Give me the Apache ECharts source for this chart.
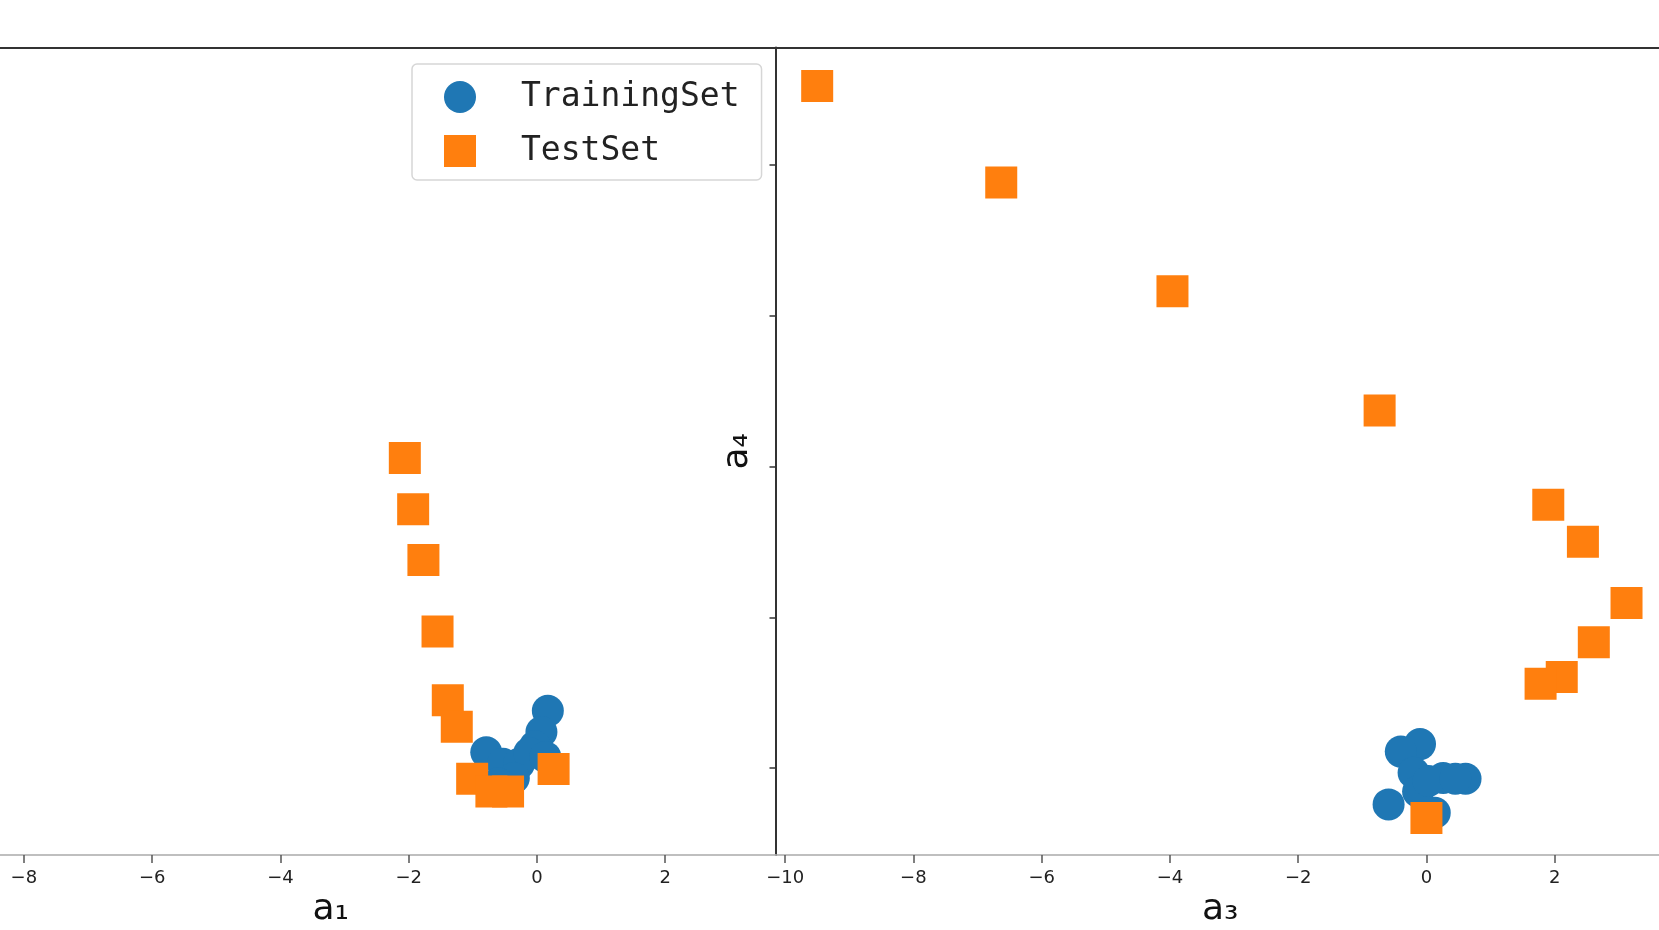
<!DOCTYPE html>
<html>
<head>
<meta charset="utf-8">
<script src="https://cdn.jsdelivr.net/npm/echarts@6/dist/echarts.min.js"></script>
<style>
html,body{margin:0;padding:0;background:#fff;}
#chart{width:1659px;height:930px;}
</style>
</head>
<body>
<div id="chart"></div>
<script>
// ---- data ----
const xTicks = [-10, -8, -6, -4, -2, 0, 2];
const yTicks = [0, 2, 4, 6, 8];

// left panel (a1)
const trainLeftX = [0.17, 0.07, -0.03, -0.79, -0.53, -0.28, -0.12, -0.36, 0.13, -0.61];
const trainLeftY = [0.76, 0.48, 0.29, 0.21, 0.06, 0.06, 0.20, -0.13, 0.15, -0.20];
const testLeftX  = [-2.06, -1.93, -1.77, -1.55, -1.39, -1.25, -1.01, -0.71, -0.45, 0.26];
const testLeftY  = [4.11, 3.43, 2.76, 1.81, 0.90, 0.55, -0.14, -0.31, -0.31, -0.01];

// right panel (a3 vs a4)
const trainRightX = [-0.10, -0.40, -0.20, 0.26, 0.61, -0.59, 0.13, -0.13, 0.03, 0.45];
const trainRightY = [0.32, 0.22, -0.06, -0.13, -0.14, -0.48, -0.59, -0.31, -0.17, -0.14];
const testRightX  = [-9.50, -6.63, -3.96, -0.73, 1.90, 2.44, 3.12, 2.61, 2.11, 1.78, 0.00];
const testRightY  = [9.04, 7.76, 6.32, 4.74, 3.49, 3.00, 2.19, 1.67, 1.21, 1.12, -0.66];

const zip = (xs, ys) => xs.map((x, i) => [x, ys[i]]);

const X_MIN = -10.15, X_MAX = 3.72, Y_MIN = -1.15, Y_MAX = 9.55;
const BLUE = '#1f77b4', ORANGE = '#ff7f0e';
const fmt = v => (v < 0 ? '\u2212' + Math.abs(v) : String(v));

function bottomX(grid, name) {
  return {
    type: 'value', gridIndex: grid, position: 'bottom',
    min: X_MIN, max: X_MAX,
    name: name, nameLocation: 'middle', nameGap: 37,
    nameTextStyle: { fontFamily: 'DejaVu Sans', fontSize: 36, color: '#111' },
    axisLine: { show: true, onZero: false, lineStyle: { color: '#aaaaaa', width: 1.5 } },
    axisTick: { show: true, customValues: xTicks, length: 8, lineStyle: { color: '#555', width: 1.5 } },
    axisLabel: { show: true, customValues: xTicks, formatter: fmt, margin: 14,
      fontFamily: 'DejaVu Sans', fontSize: 18, color: '#222' },
    splitLine: { show: false }
  };
}
function topX(grid) {
  return {
    type: 'value', gridIndex: grid, position: 'top',
    min: X_MIN, max: X_MAX,
    axisLine: { show: true, onZero: false, lineStyle: { color: '#333', width: 2 } },
    axisTick: { show: false }, axisLabel: { show: false }, splitLine: { show: false }
  };
}

const option = {
  backgroundColor: '#ffffff',
  animation: false,
  grid: [
    { left: -114, top: 47.5, width: 889.5, height: 807.5, containLabel: false, outerBoundsMode: 'none' },
    { left: 775.5, top: 47.5, width: 889.5, height: 807.5, containLabel: false, outerBoundsMode: 'none' }
  ],
  xAxis: [bottomX(0, 'a\u2081'), bottomX(1, 'a\u2083'), topX(0), topX(1)],
  yAxis: [
    { type: 'value', gridIndex: 0, min: Y_MIN, max: Y_MAX,
      axisLine: { show: false, onZero: false }, axisTick: { show: false }, axisLabel: { show: false },
      splitLine: { show: false } },
    { type: 'value', gridIndex: 1, min: Y_MIN, max: Y_MAX,
      name: 'a\u2084', nameLocation: 'middle', nameRotate: 90, nameGap: 20,
      nameTextStyle: { fontFamily: 'DejaVu Sans', fontSize: 36, color: '#111' },
      axisLine: { show: true, onZero: false, lineStyle: { color: '#333', width: 2 } },
      axisTick: { show: true, customValues: yTicks, length: 6, lineStyle: { color: '#333', width: 1.5 } },
      axisLabel: { show: false },
      splitLine: { show: false } }
  ],
  legend: {
    left: 412, top: 64,
    orient: 'vertical',
    padding: [14, 22, 10, 32],
    itemGap: 16,
    itemWidth: 32, itemHeight: 32,
    backgroundColor: 'rgba(255,255,255,0.8)',
    borderColor: '#d6d6d6', borderWidth: 1.5, borderRadius: 5,
    textStyle: { fontFamily: 'DejaVu Sans Mono', fontSize: 33, lineHeight: 34, color: '#222',
      padding: [4, 0, 0, 40] },
    data: [
      { name: 'TrainingSet', icon: 'circle' },
      { name: 'TestSet', icon: 'rect' }
    ]
  },
  series: [
    { name: 'TrainingSet', type: 'scatter', xAxisIndex: 0, yAxisIndex: 0,
      symbol: 'circle', symbolSize: 32, itemStyle: { color: BLUE, opacity: 1 },
      data: zip(trainLeftX, trainLeftY) },
    { name: 'TrainingSet', type: 'scatter', xAxisIndex: 1, yAxisIndex: 1,
      symbol: 'circle', symbolSize: 32, itemStyle: { color: BLUE, opacity: 1 },
      data: zip(trainRightX, trainRightY) },
    { name: 'TestSet', type: 'scatter', xAxisIndex: 0, yAxisIndex: 0,
      symbol: 'rect', symbolSize: 32, itemStyle: { color: ORANGE, opacity: 1 },
      data: zip(testLeftX, testLeftY) },
    { name: 'TestSet', type: 'scatter', xAxisIndex: 1, yAxisIndex: 1,
      symbol: 'rect', symbolSize: 32, itemStyle: { color: ORANGE, opacity: 1 },
      data: zip(testRightX, testRightY) }
  ]
};

const chart = echarts.init(document.getElementById('chart'), null, { renderer: 'canvas' });
chart.setOption(option);
</script>
</body>
</html>
